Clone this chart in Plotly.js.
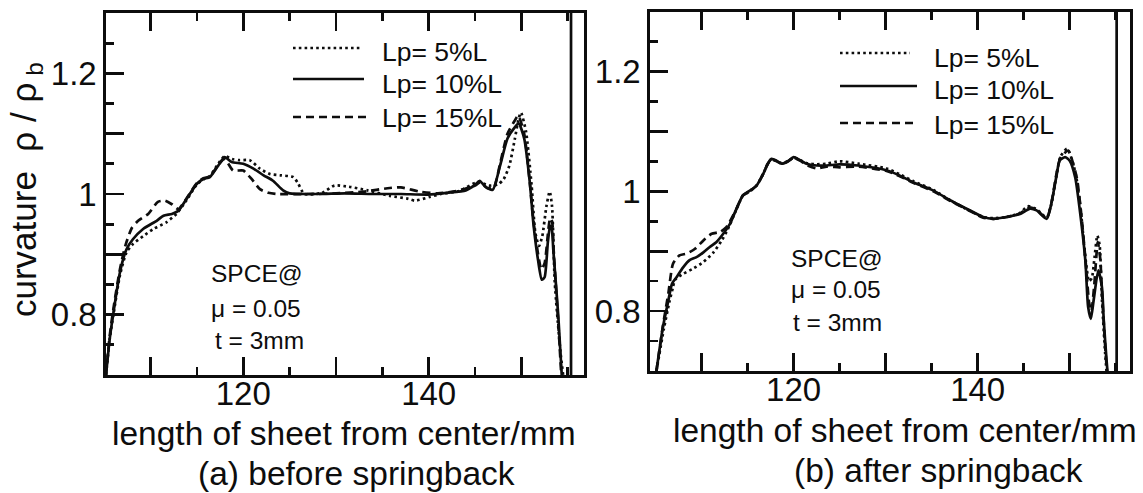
<!DOCTYPE html>
<html><head><meta charset="utf-8">
<script src="https://cdn.plot.ly/plotly-3.0.1.min.js"></script>
<style>html,body{margin:0;padding:0;background:#fff}#chart{width:1143px;height:493px}</style>
</head><body><div id="chart"></div>
<script>
// ---------- data: (a) before springback ----------
const beforeX5 = [105.2,105.6,106.0,106.7,107.4,108.1,109.2,110.3,111.7,112.8,113.9,115.0,115.7,116.4,117.3,118.0,118.8,119.6,120.7,121.8,122.9,124.0,125.4,125.9,126.6,128.5,129.85,131.4,133.4,135.8,137.8,138.5,140.1,141.3,143.3,145.3,146.5,147.5,148.1,148.7,149.3,149.7,149.95,150.5,151.1,151.5,151.9,152.25,152.7,153.05,153.3,153.6,154.2,154.5];
const beforeY5 = [0.70,0.76,0.80,0.865,0.903,0.917,0.93,0.942,0.953,0.967,0.99,1.016,1.024,1.03,1.05,1.063,1.058,1.056,1.056,1.042,1.033,1.031,1.028,1.018,1.0,1.002,1.014,1.012,1.006,0.997,0.992,0.989,0.995,1.0,1.005,1.02,1.014,1.016,1.025,1.047,1.092,1.125,1.135,1.103,1.014,0.936,0.914,0.93,0.98,1.004,0.98,0.853,0.74,0.70];
const beforeX10 = [105.2,105.6,106.0,106.7,107.4,108.1,109.2,110.7,111.4,112.3,113.0,113.9,115.0,115.7,116.4,117.3,118.0,118.75,120.0,121.1,122.2,123.2,124.3,125.0,128,131,134,137,140,142,144,145.0,145.5,146.1,146.9,147.7,148.5,149.3,149.7,150.3,150.9,151.3,151.8,152.2,152.5,152.85,153.1,153.25,153.45,153.98,154.35];
const beforeY10 = [0.70,0.76,0.803,0.87,0.908,0.925,0.942,0.956,0.964,0.967,0.972,0.992,1.017,1.025,1.028,1.047,1.061,1.053,1.05,1.042,1.031,1.022,1.006,1.001,1.0,1.001,1.0,1.0,0.999,1.002,1.006,1.015,1.022,1.012,1.007,1.047,1.092,1.111,1.117,1.092,1.02,0.95,0.89,0.858,0.862,0.92,0.947,0.945,0.905,0.797,0.70];
const beforeX15 = [105.2,105.6,106.0,106.7,107.3,108.0,108.7,109.75,110.8,111.55,112.3,113.0,113.9,115.0,115.7,116.4,117.3,118.0,118.9,120.0,120.9,121.8,122.7,123.6,127,130,133,135.8,137,139,141,143,145,145.6,146.3,147.0,147.7,148.5,149.3,149.65,150.3,150.9,151.3,151.8,152.15,152.5,152.9,153.1,153.3,153.5,154.0,154.3];
const beforeY15 = [0.70,0.765,0.81,0.875,0.915,0.944,0.956,0.967,0.987,0.989,0.983,0.975,0.993,1.018,1.026,1.029,1.048,1.058,1.039,1.039,1.025,1.008,1.002,1.0,1.0,1.001,1.004,1.01,1.011,1.004,1.001,1.005,1.014,1.02,1.01,1.01,1.05,1.1,1.122,1.13,1.1,1.02,0.955,0.9,0.875,0.885,0.94,0.96,0.955,0.9,0.78,0.70];
const beforeEdgeX = [155.35,155.35];
const beforeEdgeY = [0.70,1.30];

// ---------- data: (b) after springback ----------
const afterX5 = [105.1,105.9,106.5,106.9,107.1,108.0,109.1,110.2,111.3,112.2,112.8,113.8,114.5,115.25,116.0,116.7,117.2,117.6,118.15,118.7,119.4,120.0,120.7,121.4,122.5,123.6,125.0,127.0,130.1,131.55,133.0,135.2,137.0,138.8,140.6,141.7,143.15,144.6,145.5,146.4,147.5,148.0,148.6,149.0,149.7,150.2,150.7,151.2,151.7,152.1,152.4,152.7,153.0,153.25,153.5,153.85,154.0];
const afterY5 = [0.70,0.77,0.815,0.84,0.852,0.862,0.871,0.882,0.898,0.918,0.935,0.97,0.993,1.0,1.01,1.029,1.046,1.054,1.05,1.047,1.05,1.056,1.052,1.047,1.045,1.046,1.05,1.046,1.038,1.028,1.017,1.002,0.985,0.97,0.957,0.955,0.957,0.964,0.975,0.97,0.956,0.978,1.03,1.058,1.071,1.055,1.025,0.968,0.89,0.85,0.855,0.89,0.926,0.91,0.82,0.73,0.70];
const afterX10 = [105.1,105.8,106.4,106.8,107.3,108.0,108.7,109.45,110.2,110.9,111.6,112.5,113.1,113.8,114.5,115.25,116.0,116.7,117.2,117.6,118.15,118.7,119.4,120.0,120.7,121.4,122.5,123.6,125.0,127.0,130.1,131.55,133.0,135.2,137.0,138.8,140.6,141.7,143.15,144.6,145.7,146.4,147.5,148.0,148.6,148.9,149.5,150.0,150.6,151.1,151.7,152.0,152.3,152.6,153.1,153.5,153.7,154.0,154.1];
const afterY10 = [0.70,0.773,0.818,0.846,0.857,0.873,0.885,0.89,0.898,0.907,0.915,0.932,0.946,0.971,0.993,1.001,1.01,1.029,1.046,1.054,1.051,1.046,1.05,1.057,1.052,1.046,1.043,1.043,1.045,1.043,1.035,1.026,1.015,1.001,0.985,0.971,0.957,0.954,0.957,0.962,0.971,0.968,0.954,0.979,1.029,1.051,1.057,1.051,1.023,0.968,0.884,0.807,0.787,0.818,0.868,0.84,0.784,0.718,0.70];
const afterX15 = [105.1,105.8,106.4,106.9,107.6,108.4,109.3,110.2,111.1,112.0,112.7,113.8,114.5,115.25,116.0,116.7,117.2,117.6,118.15,118.7,119.4,120.0,120.7,121.4,122.5,123.6,125.0,127.0,130.1,131.55,133.0,135.2,137.0,138.8,140.6,141.7,143.15,144.6,145.6,146.4,147.5,148.0,148.6,149.0,149.85,150.3,150.8,151.3,151.8,152.1,152.35,152.65,153.05,153.3,153.55,153.9,154.05];
const afterY15 = [0.70,0.775,0.83,0.879,0.893,0.896,0.904,0.918,0.929,0.932,0.94,0.971,0.993,1.0,1.01,1.029,1.046,1.053,1.05,1.046,1.05,1.056,1.051,1.044,1.038,1.041,1.04,1.041,1.034,1.025,1.014,1.0,0.984,0.97,0.956,0.954,0.957,0.963,0.973,0.969,0.955,0.98,1.032,1.056,1.068,1.05,1.02,0.955,0.87,0.815,0.80,0.84,0.915,0.89,0.82,0.73,0.70];
const afterEdgeX = [155.1,155.1];
const afterEdgeY = [0.70,1.30];

// ---------- labels / ticks ----------
const seriesNames = ['Lp= 5%L','Lp= 10%L','Lp= 15%L'];
const panelTitles = ['(a) before springback','(b) after springback'];
const xTitleText = 'length of sheet from center/mm';
const yTitleText = 'curvature \u00a0\u03c1 / \u03c1<sub>\u00a0b</sub>';
const noteLines = ['SPCE@','\u03bc = 0.05','t = 3mm'];
const xTickVals = [110,120,130,140,150];
const xTickText = [' ','120',' ','140',' '];
const xMinorVals = [115,125,135,145,155];
const yTickVals = [0.8,0.9,1.0,1.1,1.2];
const yTickText = ['0.8',' ','1',' ','1.2'];
const yMinorVals = [0.75,0.85,0.95,1.05,1.15,1.25];

// ---------- styling ----------
const W = 1143, H = 493;
const INK = '#0d0d0d';
const FONT = '"Liberation Sans", Arial, Helvetica, sans-serif';
const LW = 2.7;
const dashes = ['2.6px,3.2px', 'solid', '8px,5px'];
const px = v => v / W;
const py = v => 1 - v / H;

function mkTrace(x, y, dash, xa, ya, name){
  return {x, y, type:'scatter', mode:'lines', name, xaxis:xa, yaxis:ya,
    line:{color:INK, width:LW, dash, shape:'spline', smoothing:0.6}, showlegend:false, hoverinfo:'skip'};
}
const data = [
  mkTrace(beforeX5, beforeY5, dashes[0], 'x', 'y', seriesNames[0]),
  mkTrace(beforeX10, beforeY10, dashes[1], 'x', 'y', seriesNames[1]),
  mkTrace(beforeX15, beforeY15, dashes[2], 'x', 'y', seriesNames[2]),
  {x:beforeEdgeX, y:beforeEdgeY, type:'scatter', mode:'lines', xaxis:'x', yaxis:'y', line:{color:INK,width:LW}, showlegend:false, hoverinfo:'skip'},
  mkTrace(afterX5, afterY5, dashes[0], 'x2', 'y2', seriesNames[0]),
  mkTrace(afterX10, afterY10, dashes[1], 'x2', 'y2', seriesNames[1]),
  mkTrace(afterX15, afterY15, dashes[2], 'x2', 'y2', seriesNames[2]),
  {x:afterEdgeX, y:afterEdgeY, type:'scatter', mode:'lines', xaxis:'x2', yaxis:'y2', line:{color:INK,width:LW}, showlegend:false, hoverinfo:'skip'}
];

function xAxis(domain, range, anchor){
  return {domain, range, anchor, showline:true, linewidth:LW, linecolor:INK, mirror:'ticks',
    ticks:'inside', ticklen:18, tickwidth:LW, tickcolor:INK,
    tickmode:'array', tickvals:xTickVals, ticktext:xTickText,
    tickfont:{family:FONT, size:33, color:INK}, ticklabelstandoff:-12,
    minor:{tickmode:'array', tickvals:xMinorVals, ticks:'inside', ticklen:8, tickwidth:LW, tickcolor:INK, showgrid:false},
    showgrid:false, zeroline:false, fixedrange:true};
}
function yAxis(domain, anchor){
  return {domain, range:[0.7,1.3], anchor, showline:true, linewidth:LW, linecolor:INK, mirror:true,
    ticks:'inside', ticklen:18, tickwidth:LW, tickcolor:INK,
    tickmode:'array', tickvals:yTickVals, ticktext:yTickText,
    tickfont:{family:FONT, size:33, color:INK}, ticklabelstandoff:0,
    minor:{tickmode:'array', tickvals:yMinorVals, ticks:'inside', ticklen:8, tickwidth:LW, tickcolor:INK, showgrid:false},
    showgrid:false, zeroline:false, fixedrange:true};
}

function txt(text, x, y, size, xanchor, extra){
  return Object.assign({text, xref:'paper', yref:'paper', x:px(x), y:py(y), xanchor:xanchor||'center', yanchor:'middle',
    showarrow:false, font:{family:FONT, size, color:INK}}, extra||{});
}

const annotations = [
  txt(yTitleText, 26, 190, 35, 'center', {textangle:-90}),
  txt(xTitleText, 344, 433, 33.5),
  txt(xTitleText, 905, 430, 33.5),
  txt(panelTitles[0], 356, 473, 33.5),
  txt(panelTitles[1], 939, 470, 33.5),
  txt(noteLines[0], 209, 273, 24.5, 'left'),
  txt(noteLines[1], 209, 308, 24.5, 'left'),
  txt(noteLines[2], 213, 340, 24.5, 'left'),
  txt(noteLines[0], 789, 258, 24.5, 'left'),
  txt(noteLines[1], 789, 289, 24.5, 'left'),
  txt(noteLines[2], 791, 322, 24.5, 'left'),
  txt(seriesNames[0], 380, 52, 26.5, 'left'),
  txt(seriesNames[1], 380, 84, 26.5, 'left'),
  txt(seriesNames[2], 380, 118, 26.5, 'left'),
  txt(seriesNames[0], 932, 58, 26.5, 'left'),
  txt(seriesNames[1], 932, 90, 26.5, 'left'),
  txt(seriesNames[2], 932, 125, 26.5, 'left')
];

function legLine(x0, x1, y, dash){
  return {type:'line', xref:'paper', yref:'paper', x0:px(x0), x1:px(x1), y0:py(y), y1:py(y), line:{color:INK, width:LW, dash}};
}
const shapes = [
  legLine(293, 362, 48, dashes[0]), legLine(293, 364, 79, dashes[1]), legLine(293, 368, 117, dashes[2]),
  legLine(840, 910, 53, dashes[0]), legLine(840, 917, 86, dashes[1]), legLine(840, 917, 123, dashes[2])
];

const layout = {
  width:W, height:H, margin:{l:0,r:0,t:0,b:0,pad:0},
  paper_bgcolor:'#fff', plot_bgcolor:'rgba(0,0,0,0)', showlegend:false,
  xaxis: xAxis([px(106), px(584)], [105.2, 156.75], 'y'),
  yaxis: yAxis([py(375), py(13)], 'x'),
  xaxis2: xAxis([px(650), px(1130)], [104.4, 156.55], 'y2'),
  yaxis2: yAxis([py(371), py(11.5)], 'x2'),
  annotations, shapes
};
Plotly.newPlot('chart', data, layout, {staticPlot:true, displayModeBar:false});
</script></body></html>
